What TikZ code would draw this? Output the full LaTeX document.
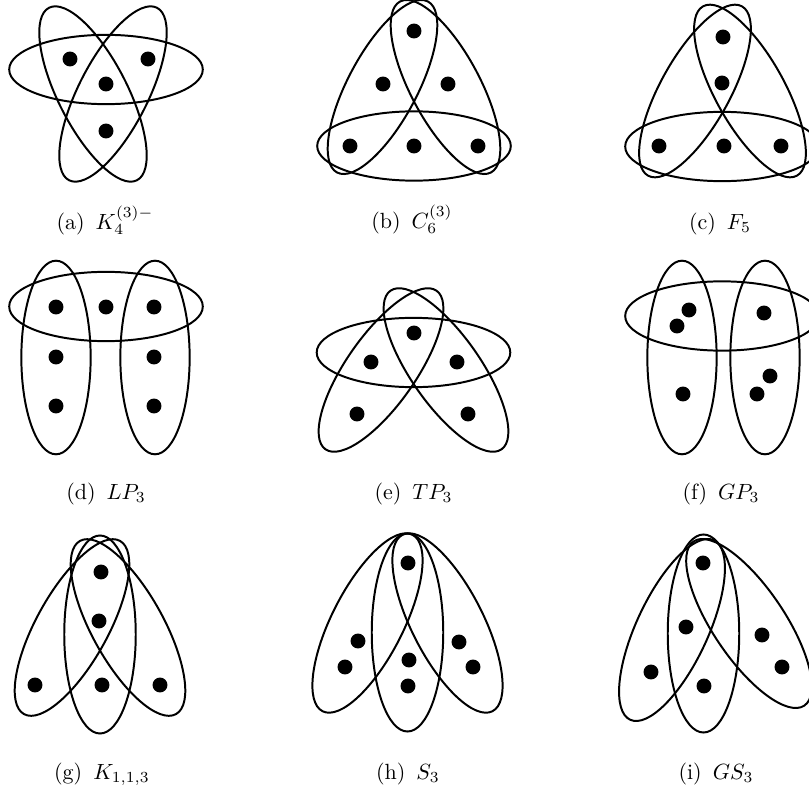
\documentclass[tikz,border=0pt]{standalone}
\usepackage{amsmath,amssymb}
\usepackage{tikz}
\usetikzlibrary{shapes.geometric}

\begin{document}
\begin{tikzpicture}[x=0.4545pt,y=0.4545pt,
  vtx/.style={circle,fill,inner sep=0pt,minimum size=6.8pt},
  hedge/.style={draw,line width=0.9pt,ellipse,inner sep=0pt,minimum width=88pt,minimum height=31.5pt},
  hedgel/.style={hedge,minimum width=90pt,minimum height=32.5pt},
  subcap/.style={anchor=base}]
\useasboundingbox (0,0) rectangle (809,-789);
% (a)
\node[vtx] (a1) at (70,-59) {};
\node[vtx] (a2) at (148,-59) {};
\node[vtx] (a3) at (106,-84) {};
\node[vtx] (a4) at (106,-131) {};
\node[hedge] (ea1) at (106,-69.5) {};
\node[hedge,rotate=-63] (ea2) at (93,-94) {};
\node[hedge,rotate=63] (ea3) at (113,-94) {};
\node[subcap] (capa) at (105,-229) {(a)\enspace$K_4^{(3)-}$};
% (b)
\node[vtx] (b1) at (414,-31) {};
\node[vtx] (b2) at (383,-84) {};
\node[vtx] (b3) at (448,-84) {};
\node[vtx] (b4) at (350,-146) {};
\node[vtx] (b5) at (414,-146) {};
\node[vtx] (b6) at (478,-146) {};
\node[hedge] (eb1) at (414,-146) {};
\node[hedge,rotate=62] (eb2) at (382.5,-87) {};
\node[hedge,rotate=-62] (eb3) at (445.5,-87) {};
\node[subcap] (capb) at (412,-228) {(b)\enspace$C_6^{(3)}$};
% (c)
\node[vtx] (c1) at (723,-37) {};
\node[vtx] (c2) at (722,-83) {};
\node[vtx] (c3) at (659,-146) {};
\node[vtx] (c4) at (724,-146) {};
\node[vtx] (c5) at (781,-146) {};
\node[hedge] (ec1) at (722,-146.5) {};
\node[hedge,rotate=61] (ec2) at (695,-91) {};
\node[hedge,rotate=-61] (ec3) at (750,-91) {};
\node[subcap] (capc) at (720,-229) {(c)\enspace$F_5$};
% (d)
\node[vtx] (d1) at (56,-307) {};
\node[vtx] (d2) at (106,-307) {};
\node[vtx] (d3) at (154,-307) {};
\node[vtx] (d4) at (56,-357) {};
\node[vtx] (d5) at (154,-357) {};
\node[vtx] (d6) at (56,-406) {};
\node[vtx] (d7) at (154,-406) {};
\node[hedge] (ed1) at (106,-306.5) {};
\node[hedge,rotate=90] (ed2) at (56,-357.5) {};
\node[hedge,rotate=90] (ed3) at (155,-357.5) {};
\node[subcap] (capd) at (106,-499) {(d)\enspace$LP_3$};
% (e)
\node[vtx] (e1) at (414,-333) {};
\node[vtx] (e2) at (371,-362) {};
\node[vtx] (e3) at (457,-362) {};
\node[vtx] (e4) at (357,-414) {};
\node[vtx] (e5) at (468,-414) {};
\node[hedge] (ee1) at (413.5,-352.5) {};
\node[hedge,rotate=55] (ee2) at (381,-370) {};
\node[hedge,rotate=-55] (ee3) at (446,-370) {};
\node[subcap] (cape) at (413.5,-499) {(e)\enspace$TP_3$};
% (f)
\node[vtx] (f1) at (689,-310) {};
\node[vtx] (f2) at (677,-326) {};
\node[vtx] (f3) at (764,-313) {};
\node[vtx] (f4) at (683,-394) {};
\node[vtx] (f5) at (770,-376) {};
\node[vtx] (f6) at (757,-394) {};
\node[hedge] (ef1) at (722,-316) {};
\node[hedge,rotate=90] (ef2) at (682,-357.5) {};
\node[hedge,rotate=90] (ef3) at (765,-357.5) {};
\node[subcap] (capf) at (721,-499) {(f)\enspace$GP_3$};
% (g)
\node[vtx] (g1) at (101,-572) {};
\node[vtx] (g2) at (99,-621) {};
\node[vtx] (g3) at (35,-685) {};
\node[vtx] (g4) at (102,-685) {};
\node[vtx] (g5) at (160,-685) {};
\node[hedgel,rotate=90] (eg1) at (100,-634.5) {};
\node[hedgel,rotate=61] (eg2) at (72,-627.5) {};
\node[hedgel,rotate=-61] (eg3) at (128,-627.5) {};
\node[subcap] (capg) at (102,-779) {(g)\enspace$K_{1,1,3}$};
% (h)
\node[vtx] (h1) at (408,-563) {};
\node[vtx] (h2) at (358,-641) {};
\node[vtx] (h3) at (345,-667) {};
\node[vtx] (h4) at (409,-660) {};
\node[vtx] (h5) at (408,-686) {};
\node[vtx] (h6) at (459,-642) {};
\node[vtx] (h7) at (473,-667) {};
\node[hedgel,rotate=90] (eh1) at (407.5,-632.5) {};
\node[hedgel,rotate=63] (eh2) at (367.5,-623) {};
\node[hedgel,rotate=-63] (eh3) at (447.5,-623) {};
\node[subcap] (caph) at (408,-779) {(h)\enspace$S_3$};
% (i)
\node[vtx] (i1) at (703,-563) {};
\node[vtx] (i2) at (686,-627) {};
\node[vtx] (i3) at (651,-672) {};
\node[vtx] (i4) at (704,-686) {};
\node[vtx] (i5) at (762,-635) {};
\node[vtx] (i6) at (782,-667) {};
\node[hedgel,rotate=90] (ei1) at (703.5,-633.5) {};
\node[hedgel,rotate=65] (ei2) at (672,-630) {};
\node[hedgel,rotate=-56] (ei3) at (749,-623.5) {};
\node[subcap] (capi) at (716,-779) {(i)\enspace$GS_3$};
\end{tikzpicture}
\end{document}
